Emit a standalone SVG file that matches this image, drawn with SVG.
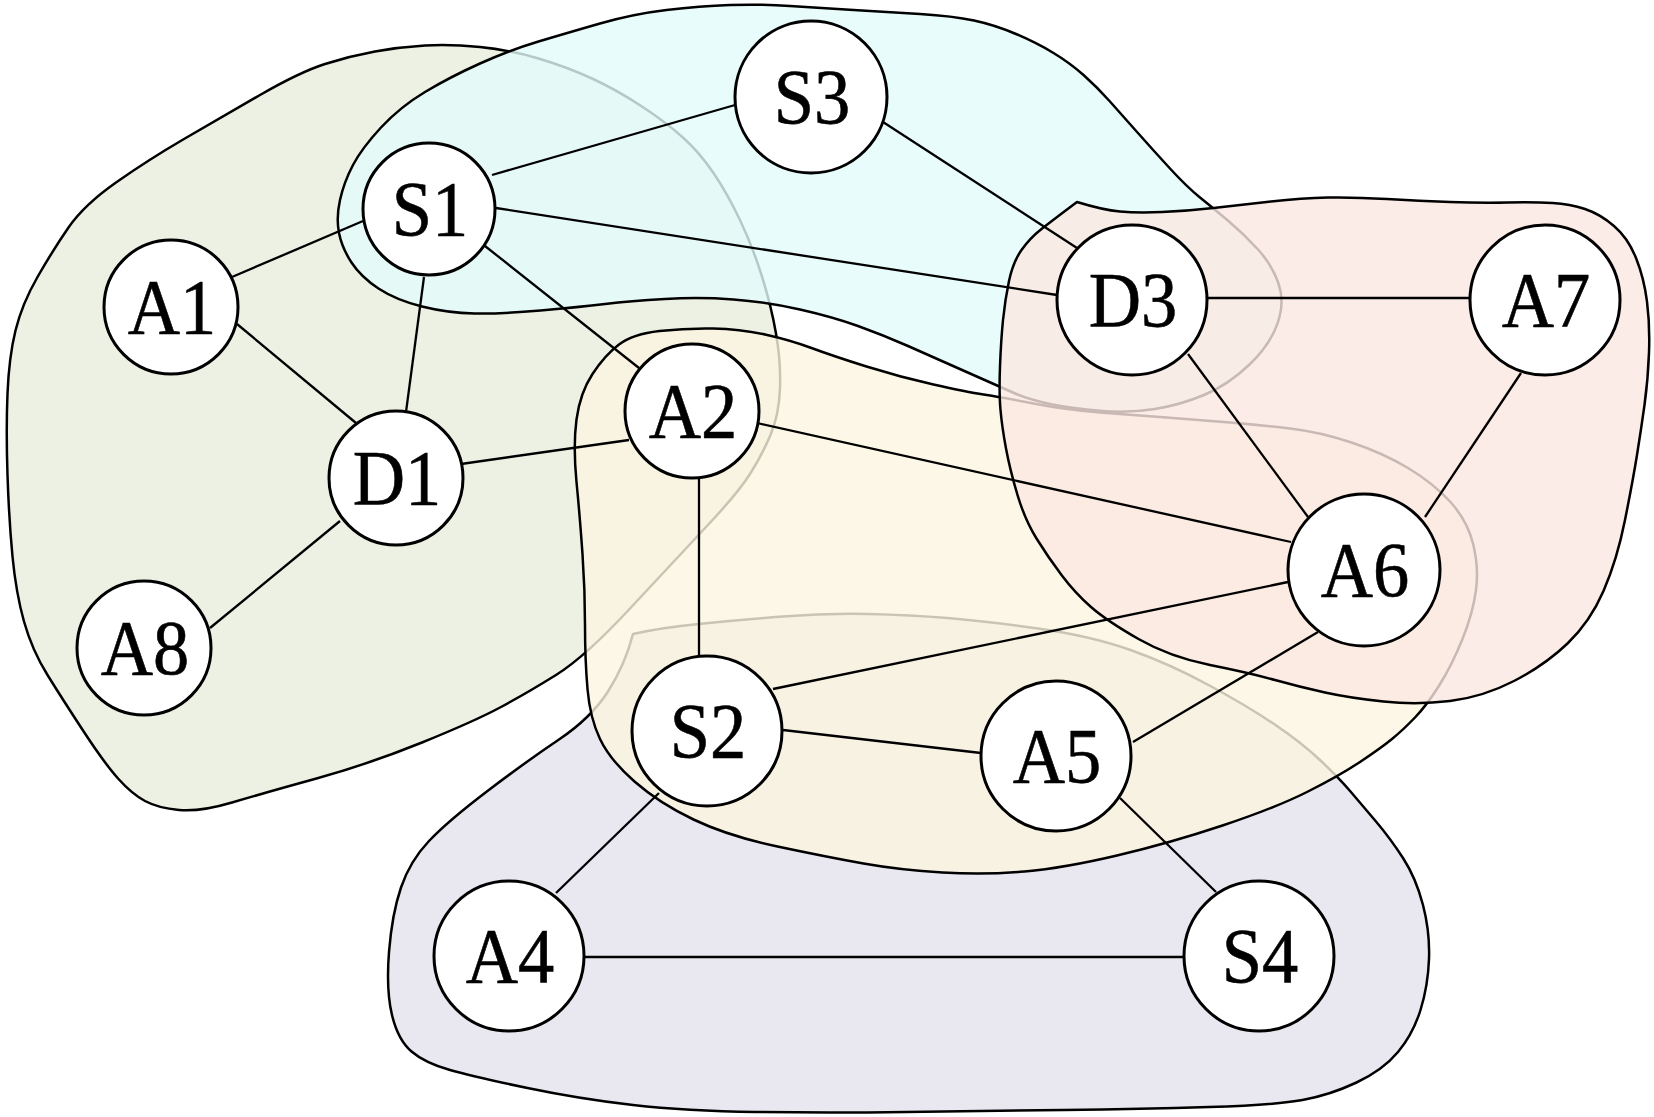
<svg xmlns="http://www.w3.org/2000/svg" width="1654" height="1117" viewBox="0 0 1654 1117">
<style>
.blobfill{stroke:none}
.blobline{fill:none;stroke:#000;stroke-width:2.5;stroke-linejoin:round}
.edge{stroke:#000;stroke-width:2.3;fill:none}
.node circle{fill:#fff;stroke:#000;stroke-width:3}
.node text{font-size:78px;fill:#000;stroke:#000;stroke-width:0.6;text-anchor:middle}
</style>
<defs>
<path id="pGreen" d="M 7.5 475 Q 6 430 7.5 393.5 Q 9 357 15.5 330.5 Q 22 304 37.5 277 Q 53 250 68.5 227.5 Q 84 205 116 182.5 Q 148 160 184 139 Q 220 118 260 95 Q 300 72 325 64 Q 350 56 375 51.5 Q 400 47 425 45.5 Q 450 44 480 47 Q 510 50 538.5 58.5 Q 567 67 592 78.5 Q 617 90 642 106.5 Q 667 123 683.5 138 Q 700 153 713.5 173 Q 727 193 739.5 219 Q 752 245 761.5 275 Q 771 305 776 333.5 Q 781 362 780 388.5 Q 779 415 770.5 435 Q 762 455 750 474 Q 738 493 706.5 526.5 Q 675 560 630 608.5 Q 585 657 556 675 Q 527 693 501 707 Q 475 721 422 742.5 Q 369 764 316.5 778.5 Q 264 793 232 802.5 Q 200 812 179 810 Q 158 808 145 801 Q 132 794 118.5 779 Q 105 764 84 732 Q 63 700 47.5 675 Q 32 650 24 621.5 Q 16 593 12.5 556.5 Q 9 520 7.5 475 Z"/>
<path id="pPurple" d="M 633 634 Q 659 628 698.5 624 Q 738 620 782.5 616.5 Q 827 613 868.5 614 Q 910 615 947.5 618 Q 985 621 1038 628.5 Q 1091 636 1130.5 650 Q 1170 664 1209.5 685.5 Q 1249 707 1275.5 725 Q 1302 743 1320.5 760.5 Q 1339 778 1350.5 791.5 Q 1362 805 1376 821.5 Q 1390 838 1403 858 Q 1416 878 1423 905 Q 1430 932 1429 959 Q 1428 986 1420.5 1010 Q 1413 1034 1398 1052 Q 1383 1070 1356.5 1082.5 Q 1330 1095 1302.5 1100 Q 1275 1105 1209 1107 Q 1143 1109 1064 1110 Q 985 1111 906 1112 Q 827 1113 756.5 1112 Q 686 1111 633 1105 Q 580 1099 527.5 1088 Q 475 1077 450 1070 Q 425 1063 411.5 1051.5 Q 398 1040 392 1015 Q 386 990 389 952 Q 392 914 401 887.5 Q 410 861 429 841 Q 448 821 487.5 791 Q 527 761 559 739.5 Q 591 718 608 691.5 Q 625 665 633 634 Z"/>
<path id="pYellow" d="M 619 344.5 Q 633 334 659.5 331 Q 686 328 713 328.5 Q 740 329 765 334.5 Q 790 340 811.5 348 Q 833 356 866.5 366.5 Q 900 377 933.5 384.5 Q 967 392 983.5 394.5 Q 1000 397 1033.5 403.5 Q 1067 410 1100 412.5 Q 1133 415 1166.5 417.5 Q 1200 420 1230 422.5 Q 1260 425 1290 428.5 Q 1320 432 1351.5 442.5 Q 1383 453 1408 468 Q 1433 483 1450 501.5 Q 1467 520 1473 543.5 Q 1479 567 1476 590 Q 1473 613 1462.5 639 Q 1452 665 1439.5 685 Q 1427 705 1415 717.5 Q 1403 730 1392 739 Q 1381 748 1360 762 Q 1339 776 1307 792 Q 1275 808 1222.5 825.5 Q 1170 843 1117 855.5 Q 1064 868 1024.5 871.5 Q 985 875 942.5 872.5 Q 900 870 863.5 863.5 Q 827 857 777.5 846.5 Q 728 836 693.5 819.5 Q 659 803 634.5 781.5 Q 610 760 600 739 Q 590 718 587.5 689 Q 585 660 585 625 Q 585 590 582.5 554 Q 580 518 576.5 482 Q 573 446 576.5 419.5 Q 580 393 592.5 374 Q 605 355 619 344.5 Z"/>
<path id="pCyan" d="M 339 233 Q 336 218 340 200 Q 344 182 353 165 Q 362 148 381 127.5 Q 400 107 425 92 Q 450 77 480 63.5 Q 510 50 538.5 41.5 Q 567 33 600 23.5 Q 633 14 666.5 10 Q 700 6 730 5 Q 760 4 790 6 Q 820 8 853.5 10 Q 887 12 920 14 Q 953 16 974 20.5 Q 995 25 1016 34 Q 1037 43 1053.5 53 Q 1070 63 1083.5 75 Q 1097 87 1109.5 101 Q 1122 115 1137.5 132.5 Q 1153 150 1170 168.5 Q 1187 187 1200 197.5 Q 1213 208 1229 221.5 Q 1245 235 1258.5 250 Q 1272 265 1278.5 283.5 Q 1285 302 1277.5 323.5 Q 1270 345 1249 365 Q 1228 385 1204 395 Q 1180 405 1155 409 Q 1130 413 1102.5 411 Q 1075 409 1052.5 404.5 Q 1030 400 1014 393 Q 998 386 965.5 371.5 Q 933 357 908 346 Q 883 335 858 326 Q 833 317 800 309.5 Q 767 302 733.5 299.5 Q 700 297 665 299 Q 630 301 605 304 Q 580 307 540.5 310.5 Q 501 314 474.5 313.5 Q 448 313 422 306.5 Q 396 300 378.5 288.5 Q 361 277 351.5 262.5 Q 342 248 339 233 Z"/>
<path id="pPink" d="M 1077 202 Q 1103 210 1120 211.5 Q 1137 213 1162 212 Q 1187 211 1213.5 208 Q 1240 205 1271 201.5 Q 1302 198 1328 197.5 Q 1354 197 1387 199 Q 1420 201 1450 202 Q 1480 203 1507.5 202.5 Q 1535 202 1552.5 203 Q 1570 204 1585 209 Q 1600 214 1614 226 Q 1628 238 1636 258 Q 1644 278 1647 301.5 Q 1650 325 1649 352.5 Q 1648 380 1644.5 405 Q 1641 430 1637 455 Q 1633 480 1625 520 Q 1617 560 1603.5 591 Q 1590 622 1567.5 643.5 Q 1545 665 1514 681 Q 1483 697 1450 701 Q 1417 705 1383.5 701.5 Q 1350 698 1325 692.5 Q 1300 687 1275 680 Q 1250 673 1210 665 Q 1170 657 1138.5 639 Q 1107 621 1091 607 Q 1075 593 1061.5 575 Q 1048 557 1036.5 538.5 Q 1025 520 1017.5 495 Q 1010 470 1006 448.5 Q 1002 427 1000.5 410 Q 999 393 1000 366.5 Q 1001 340 1003 320 Q 1005 300 1009 281 Q 1013 262 1021.5 250 Q 1030 238 1041.5 229 Q 1053 220 1077 202 Z"/>
</defs>
<rect x="0" y="0" width="1654" height="1117" fill="#fff"/>
<g id="regions">
<g id="region-green">
<use href="#pGreen" class="blobfill" fill="#EDF1E4"/>
<use href="#pGreen" class="blobline"/>
</g>
<g id="region-purple">
<use href="#pPurple" class="blobfill" fill="#E9E7F0"/>
<use href="#pPurple" class="blobline"/>
</g>
<g id="region-yellow">
<use href="#pYellow" class="blobfill" fill="#FBF5E0" fill-opacity="0.8"/>
<use href="#pYellow" class="blobline"/>
</g>
<g id="region-cyan">
<use href="#pCyan" class="blobfill" fill="#E2FBFA" fill-opacity="0.8"/>
<use href="#pCyan" class="blobline"/>
</g>
<g id="region-pink">
<use href="#pPink" class="blobfill" fill="#FAE7E1" fill-opacity="0.8"/>
<use href="#pPink" class="blobline"/>
</g>
</g>
<g id="connectors">
<line class="edge" x1="492" y1="175" x2="735" y2="105"/>
<line class="edge" x1="363" y1="221" x2="232" y2="277"/>
<line class="edge" x1="424" y1="277" x2="406" y2="412"/>
<line class="edge" x1="485" y1="246" x2="639" y2="368"/>
<line class="edge" x1="496" y1="208" x2="1057" y2="295"/>
<line class="edge" x1="237" y1="324" x2="356" y2="423"/>
<line class="edge" x1="461" y1="464" x2="629" y2="440"/>
<line class="edge" x1="340" y1="521" x2="210" y2="628"/>
<line class="edge" x1="699" y1="479" x2="699" y2="656"/>
<line class="edge" x1="757" y1="423" x2="1291" y2="542"/>
<line class="edge" x1="883" y1="122" x2="1077" y2="248"/>
<line class="edge" x1="1207" y1="298" x2="1469" y2="298"/>
<line class="edge" x1="1188" y1="354" x2="1308" y2="517"/>
<line class="edge" x1="1521" y1="373" x2="1425" y2="517"/>
<line class="edge" x1="1288" y1="582" x2="773" y2="689"/>
<line class="edge" x1="1318" y1="632" x2="1133" y2="742"/>
<line class="edge" x1="783" y1="730" x2="981" y2="753"/>
<line class="edge" x1="659" y1="793" x2="556" y2="893"/>
<line class="edge" x1="1120" y1="798" x2="1216" y2="892"/>
<line class="edge" x1="584" y1="957" x2="1184" y2="957"/>
</g>
<g id="nodes" font-family="Liberation Serif, Times New Roman, serif">
<g id="node-S3" class="node"><circle cx="811" cy="97" r="76"/><text x="812" y="123" transform="matrix(0.93 0 0 1 56.84 0)">S3</text></g>
<g id="node-S1" class="node"><circle cx="429" cy="209" r="66"/><text x="430" y="235" transform="matrix(0.93 0 0 1 30.1 0)">S1</text></g>
<g id="node-A1" class="node"><circle cx="171" cy="307" r="67"/><text x="172" y="333" transform="matrix(0.93 0 0 1 12.04 0)">A1</text></g>
<g id="node-D1" class="node"><circle cx="396" cy="478" r="67"/><text x="397" y="504" transform="matrix(0.93 0 0 1 27.79 0)">D1</text></g>
<g id="node-A8" class="node"><circle cx="144" cy="648" r="67"/><text x="145" y="674" transform="matrix(0.93 0 0 1 10.15 0)">A8</text></g>
<g id="node-A2" class="node"><circle cx="692" cy="411" r="67"/><text x="693" y="437" transform="matrix(0.93 0 0 1 48.51 0)">A2</text></g>
<g id="node-D3" class="node"><circle cx="1132" cy="300" r="75"/><text x="1133" y="326" transform="matrix(0.93 0 0 1 79.31 0)">D3</text></g>
<g id="node-A7" class="node"><circle cx="1545" cy="300" r="75"/><text x="1546" y="326" transform="matrix(0.93 0 0 1 108.22 0)">A7</text></g>
<g id="node-A6" class="node"><circle cx="1364" cy="570" r="76"/><text x="1365" y="596" transform="matrix(0.93 0 0 1 95.55 0)">A6</text></g>
<g id="node-S2" class="node"><circle cx="707" cy="731" r="75"/><text x="708" y="757" transform="matrix(0.93 0 0 1 49.56 0)">S2</text></g>
<g id="node-A5" class="node"><circle cx="1056" cy="756" r="75"/><text x="1057" y="782" transform="matrix(0.93 0 0 1 73.99 0)">A5</text></g>
<g id="node-A4" class="node"><circle cx="509" cy="956" r="75"/><text x="510" y="982" transform="matrix(0.93 0 0 1 35.7 0)">A4</text></g>
<g id="node-S4" class="node"><circle cx="1259" cy="956" r="75"/><text x="1260" y="982" transform="matrix(0.93 0 0 1 88.2 0)">S4</text></g>
</g>
</svg>
